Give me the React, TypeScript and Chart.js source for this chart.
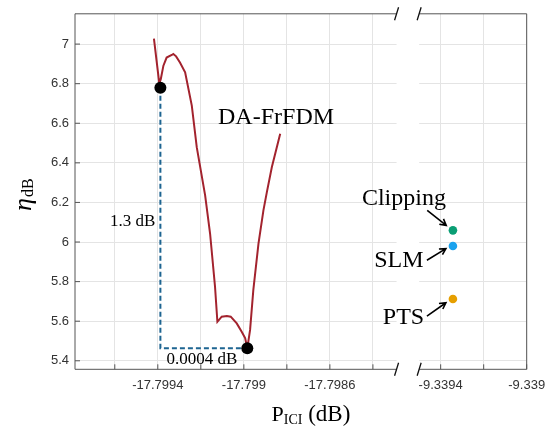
import React, { useEffect, useRef } from 'react';
import { Chart, registerables } from 'chart.js';

Chart.register(...registerables);

// ---- data ----
const curveX = [
  -17.799418, -17.799393, -17.799386, -17.799374, -17.799359, -17.799335, -17.799328,
  -17.799315, -17.799297, -17.799273, -17.799242, -17.799219, -17.79918, -17.799157,
  -17.799134, -17.799123, -17.799103, -17.799079, -17.799061, -17.799033, -17.79901,
  -17.798994, -17.798984, -17.798971, -17.798956, -17.798932, -17.798909, -17.798893,
  -17.79887, -17.798831,
];
const curveY = [
  7.028, 6.8, 6.824, 6.891, 6.932, 6.945, 6.95,
  6.938, 6.907, 6.857, 6.689, 6.479, 6.236, 6.043,
  5.774, 5.597, 5.623, 5.626, 5.623, 5.589, 5.547,
  5.515, 5.463, 5.556, 5.757, 5.992, 6.16, 6.252,
  6.378, 6.547,
];
const markerX = [-17.799388, -17.798984];
const markerY = [6.779, 5.463];
const methodNames = ['Clipping', 'SLM', 'PTS'];
const methodX = [-9.339343, -9.339343, -9.339343];
const methodY = [6.059, 5.98, 5.712];
const methodColors = ['#0a9e74', '#1aa2ee', '#e69f00'];

const xTickValues = [-17.7996, -17.7994, -17.7992, -17.799, -17.7988, -17.7986, -17.7984, -9.3394, -9.3392, -9.339];
const xTickLabels = ['', '-17.7994', '', '-17.799', '', '-17.7986', '', '-9.3394', '', '-9.339'];
const yTickValues = [5.4, 5.6, 5.8, 6, 6.2, 6.4, 6.6, 6.8, 7];
const yTickLabels = ['5.4', '5.6', '5.8', '6', '6.2', '6.4', '6.6', '6.8', '7'];

// ---- broken-axis mapping ----
const UNIT = 0.0001;
const LEFT_REF = -17.7994;
const LEFT_T = 3.85;
const RIGHT_REF = -9.3394;
const RIGHT_T = 17;
const T_MIN = 0;
const T_MAX = 21;
const GAP_T = [14.95, 16.0];
const toT = (v: number) => (v < -13 ? (v - LEFT_REF) / UNIT + LEFT_T : (v - RIGHT_REF) / UNIT + RIGHT_T);

const SERIF = '"Liberation Serif", "Times New Roman", serif';
const SANS = '"Liberation Sans", Arial, Helvetica, sans-serif';
const AXIS_COLOR = '#555555';

function drawArrow(ctx: CanvasRenderingContext2D, x0: number, y0: number, x1: number, y1: number) {
  const ang = Math.atan2(y1 - y0, x1 - x0);
  const hl = 7;
  const ha = 0.5;
  ctx.beginPath();
  ctx.moveTo(x0, y0);
  ctx.lineTo(x1, y1);
  ctx.moveTo(x1 - hl * Math.cos(ang - ha), y1 - hl * Math.sin(ang - ha));
  ctx.lineTo(x1, y1);
  ctx.lineTo(x1 - hl * Math.cos(ang + ha), y1 - hl * Math.sin(ang + ha));
  ctx.stroke();
}

const decorPlugin = {
  id: 'decor',
  beforeDatasetsDraw(chart: any) {
    const { ctx, chartArea: a, scales } = chart;
    const g0 = scales.x.getPixelForValue(GAP_T[0]);
    const g1 = scales.x.getPixelForValue(GAP_T[1]);
    ctx.save();
    ctx.fillStyle = '#ffffff';
    ctx.fillRect(g0, a.top - 1, g1 - g0, a.bottom - a.top + 2);
    ctx.restore();
  },
  afterDraw(chart: any) {
    const { ctx, chartArea: a, scales } = chart;
    const xs = scales.x;
    const ys = scales.y;
    const g0 = xs.getPixelForValue(GAP_T[0]);
    const g1 = xs.getPixelForValue(GAP_T[1]);
    ctx.save();
    // box with gaps
    ctx.strokeStyle = AXIS_COLOR;
    ctx.lineWidth = 1;
    ctx.beginPath();
    ctx.moveTo(a.left, a.top);
    ctx.lineTo(a.left, a.bottom);
    ctx.moveTo(a.right, a.top);
    ctx.lineTo(a.right, a.bottom);
    ctx.moveTo(a.left, a.top);
    ctx.lineTo(g0, a.top);
    ctx.moveTo(g1, a.top);
    ctx.lineTo(a.right, a.top);
    ctx.moveTo(a.left, a.bottom);
    ctx.lineTo(g0, a.bottom);
    ctx.moveTo(g1, a.bottom);
    ctx.lineTo(a.right, a.bottom);
    // inward ticks
    xTickValues.forEach((v) => {
      const px = xs.getPixelForValue(toT(v));
      ctx.moveTo(px, a.bottom);
      ctx.lineTo(px, a.bottom - 5);
    });
    yTickValues.forEach((v) => {
      const py = ys.getPixelForValue(v);
      ctx.moveTo(a.left, py);
      ctx.lineTo(a.left + 5, py);
    });
    ctx.stroke();
    // break slashes
    ctx.strokeStyle = '#111';
    ctx.lineWidth = 1.3;
    ctx.beginPath();
    [g0, g1].forEach((gx) => {
      [a.top, a.bottom].forEach((gy) => {
        ctx.moveTo(gx - 2, gy + 6.5);
        ctx.lineTo(gx + 2, gy - 6.5);
      });
    });
    ctx.stroke();

    // annotations
    ctx.fillStyle = '#000';
    ctx.font = `24px ${SERIF}`;
    ctx.textAlign = 'left';
    ctx.textBaseline = 'alphabetic';
    ctx.fillText('DA-FrFDM', xs.getPixelForValue(toT(-17.79912)), ys.getPixelForValue(6.597));

    const m1x = xs.getPixelForValue(toT(markerX[0]));
    const m2x = xs.getPixelForValue(toT(markerX[1]));
    const m1y = ys.getPixelForValue(markerY[0]);
    const m2y = ys.getPixelForValue(markerY[1]);
    ctx.font = `17px ${SERIF}`;
    ctx.textAlign = 'right';
    ctx.textBaseline = 'middle';
    ctx.fillText('1.3 dB', m1x - 5, (m1y + m2y) / 2 + 3);
    ctx.textAlign = 'center';
    ctx.textBaseline = 'top';
    ctx.fillText('0.0004 dB', (m1x + m2x) / 2 - 2, m2y + 3);

    // method labels and arrows
    const labelOff = [
      { tx: -7, ty: -25, sx: -25.7, sy: -20, ex: -6.7, ey: -5 },
      { tx: -29.4, ty: 21, sx: -26, sy: 14.3, ex: -7, ey: 2.6 },
      { tx: -28.7, ty: 25, sx: -26, sy: 17, ex: -7, ey: 3.7 },
    ];
    ctx.font = `24px ${SERIF}`;
    ctx.textAlign = 'right';
    ctx.textBaseline = 'alphabetic';
    ctx.strokeStyle = '#000';
    ctx.lineWidth = 1.6;
    methodNames.forEach((name, i) => {
      const px = xs.getPixelForValue(toT(methodX[i]));
      const py = ys.getPixelForValue(methodY[i]);
      const o = labelOff[i];
      ctx.fillText(name, px + o.tx, py + o.ty);
      drawArrow(ctx, px + o.sx, py + o.sy, px + o.ex, py + o.ey);
    });

    // axis titles
    ctx.textAlign = 'left';
    ctx.textBaseline = 'alphabetic';
    let x = 271.5;
    const by = 421;
    ctx.font = `22px ${SERIF}`;
    ctx.fillText('P', x, by);
    x += ctx.measureText('P').width;
    ctx.font = `14px ${SERIF}`;
    ctx.fillText('ICI', x, by + 2.5);
    x += ctx.measureText('ICI').width;
    ctx.font = `23px ${SERIF}`;
    ctx.fillText(' (dB)', x, by);

    ctx.translate(31, 211);
    ctx.rotate(-Math.PI / 2);
    ctx.font = `italic 26px ${SERIF}`;
    ctx.fillText('η', 0, 0);
    const w = ctx.measureText('η').width;
    ctx.font = `16px ${SERIF}`;
    ctx.fillText('dB', w + 1, 2);
    ctx.restore();
  },
};

export default function App() {
  const ref = useRef<HTMLCanvasElement | null>(null);
  useEffect(() => {
    if (!ref.current) return;
    const curve = curveX.map((v, i) => ({ x: toT(v), y: curveY[i] }));
    const markers = markerX.map((v, i) => ({ x: toT(v), y: markerY[i] }));
    const bracket = [
      { x: toT(markerX[0]), y: markerY[0] },
      { x: toT(markerX[0]), y: markerY[1] },
      { x: toT(markerX[1]), y: markerY[1] },
    ];
    const methods = methodX.map((v, i) => ({ x: toT(v), y: methodY[i] }));
    const chart = new Chart(ref.current, {
      type: 'scatter',
      data: {
        datasets: [
          {
            label: 'markers',
            data: markers,
            pointRadius: 6,
            pointBackgroundColor: '#000',
            pointBorderWidth: 0,
            showLine: false,
          },
          {
            label: 'methods',
            data: methods,
            pointRadius: 4.3,
            pointBackgroundColor: methodColors,
            pointBorderWidth: 0,
            showLine: false,
          },
          {
            label: 'DA-FrFDM',
            data: curve,
            showLine: true,
            borderColor: '#a3232e',
            borderWidth: 2,
            pointRadius: 0,
            tension: 0,
          },
          {
            label: 'bracket',
            data: bracket,
            showLine: true,
            borderColor: '#1d6491',
            borderWidth: 2,
            borderDash: [5, 3],
            pointRadius: 0,
            tension: 0,
          },
        ],
      },
      options: {
        responsive: false,
        animation: false,
        devicePixelRatio: 1,
        layout: { padding: { top: 13, right: 32.3, left: 0, bottom: 0 } },
        plugins: { legend: { display: false }, tooltip: { enabled: false } },
        scales: {
          x: {
            type: 'linear',
            min: T_MIN,
            max: T_MAX,
            afterBuildTicks: (s: any) => {
              s.ticks = xTickValues.map((v) => ({ value: toT(v) }));
            },
            afterFit: (s: any) => {
              s.height = 58.7;
            },
            grid: { color: '#e4e4e4', drawTicks: false },
            border: { display: false },
            ticks: {
              padding: 8,
              color: '#333',
              font: { family: SANS, size: 13 },
              maxRotation: 0,
              autoSkip: false,
              callback: (_v: any, i: number) => xTickLabels[i],
            },
          },
          y: {
            type: 'linear',
            min: 5.357,
            max: 7.153,
            afterBuildTicks: (s: any) => {
              s.ticks = yTickValues.map((v) => ({ value: v }));
            },
            afterFit: (s: any) => {
              s.width = 75;
            },
            grid: { color: '#e4e4e4', drawTicks: false },
            border: { display: false },
            ticks: {
              padding: 6,
              color: '#333',
              font: { family: SANS, size: 13 },
              autoSkip: false,
              callback: (_v: any, i: number) => yTickLabels[i],
            },
          },
        },
      },
      plugins: [decorPlugin],
    });
    return () => chart.destroy();
  }, []);
  return (
    <div style={{ position: 'fixed', left: 0, top: 0, width: 559, height: 428, background: '#fff' }}>
      <canvas ref={ref} width={559} height={428} style={{ display: 'block' }} />
    </div>
  );
}
